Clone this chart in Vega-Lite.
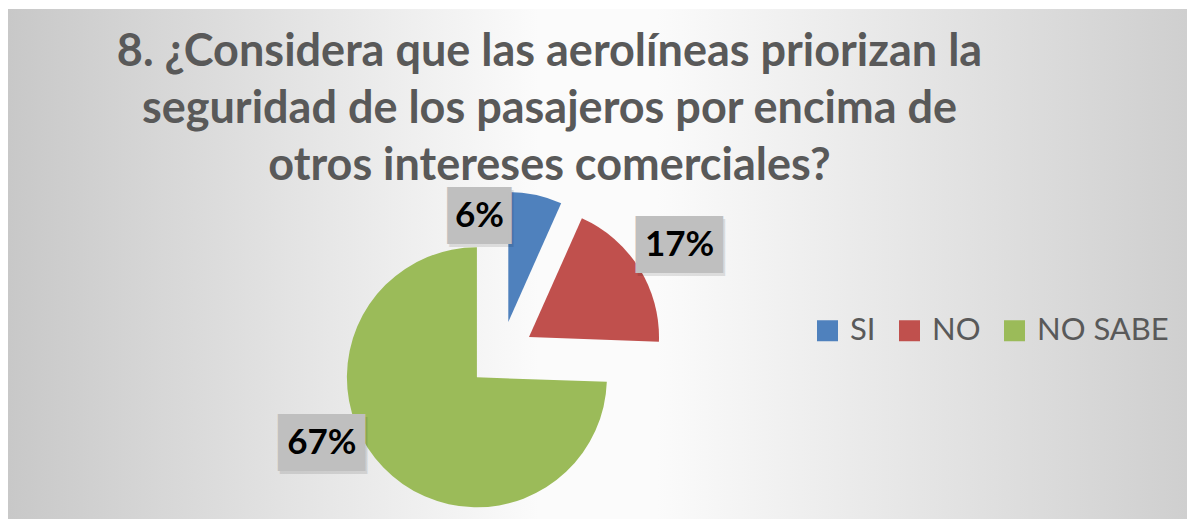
{
  "$schema": "https://vega.github.io/schema/vega-lite/v6.json",
  "width": 1179,
  "height": 510,
  "autosize": {"type": "none"},
  "padding": {"left": 8, "top": 9, "right": 0, "bottom": 2},
  "background": "white",
  "config": {"view": {"stroke": null}},
  "title": {
    "text": ["8. ¿Considera que las aerolíneas priorizan la", "seguridad de los pasajeros por encima de", "otros intereses comerciales?"],
    "font": "Lato",
    "fontSize": 45,
    "fontWeight": "bold",
    "color": "#595959",
    "anchor": "middle",
    "lineHeight": 57,
    "baseline": "top",
    "offset": -180,
    "dx": -48
  },
  "data": {
    "values": [
      {"cat": "SI", "value": 6, "label": "6%"},
      {"cat": "NO", "value": 17, "label": "17%"},
      {"cat": "NO SABE", "value": 67, "label": "67%"}
    ]
  },
  "transform": [
    {"stack": "value", "groupby": [], "sort": [{"field": "value", "order": "ascending"}], "as": ["t0", "t1"]}
  ],
  "layer": [
    {"mark": {"type": "rect", "fill": {"gradient": "linear", "x1": 0, "y1": 0, "x2": 1, "y2": 0, "stops": [{"offset": 0, "color": "#c8c8c8"}, {"offset": 0.45, "color": "#fbfbfb"}, {"offset": 0.55, "color": "#fbfbfb"}, {"offset": 1, "color": "#cfcfcf"}]}}, "encoding": {}},
    {
      "transform": [{"filter": "datum.cat === 'SI'"}],
      "mark": {"type": "arc", "outerRadius": 130, "x": 500.3, "y": 312.9},
      "encoding": {
        "theta": {"field": "t0", "type": "quantitative", "scale": {"domain": [0, 90]}},
        "theta2": {"field": "t1"},
        "color": {"field": "cat", "type": "nominal", "scale": {"domain": ["SI", "NO", "NO SABE"], "range": ["#4f81bd", "#c0504d", "#9bbb59"]},
          "legend": {"orient": "none", "legendX": 804, "legendY": 306, "direction": "horizontal", "title": null, "symbolType": "square", "symbolSize": 441, "symbolStrokeWidth": 0, "symbolOpacity": 1, "labelFont": "Lato", "labelFontSize": 31, "labelColor": "#595959", "labelOffset": 7, "columnPadding": 18, "labelLimit": 400}}
      }
    },
    {
      "transform": [{"filter": "datum.cat === 'NO'"}],
      "mark": {"type": "arc", "outerRadius": 130, "x": 521.0, "y": 328.1},
      "encoding": {
        "theta": {"field": "t0", "type": "quantitative"},
        "theta2": {"field": "t1"},
        "color": {"field": "cat", "type": "nominal"}
      }
    },
    {
      "transform": [{"filter": "datum.cat === 'NO SABE'"}],
      "mark": {"type": "arc", "outerRadius": 130, "x": 468.9, "y": 368.3},
      "encoding": {
        "theta": {"field": "t0", "type": "quantitative"},
        "theta2": {"field": "t1"},
        "color": {"field": "cat", "type": "nominal"}
      }
    },
    {
      "transform": [{"filter": "datum.cat === 'SI'"}],
      "layer": [
        {"mark": {"type": "text", "font": "DejaVu Sans Mono", "fontSize": 48, "color": "#000000", "opacity": 0.1, "align": "center", "baseline": "middle", "x": 500.3, "y": 312.9, "radius": 109.6, "thetaOffset": -0.266, "dx": 2, "dy": 5},
         "encoding": {"theta": {"field": "t0", "type": "quantitative"}, "text": {"value": "▕██▏"}}},
        {"mark": {"type": "text", "font": "DejaVu Sans Mono", "fontSize": 48, "color": "#bfbfbf", "align": "center", "baseline": "middle", "x": 500.3, "y": 312.9, "radius": 109.6, "thetaOffset": -0.266, "dy": 2},
         "encoding": {"theta": {"field": "t0", "type": "quantitative"}, "text": {"value": "▕██▏"}}},
        {"mark": {"type": "text", "font": "Lato", "fontSize": 35, "fontWeight": "bold", "color": "#000000", "align": "center", "baseline": "middle", "x": 500.3, "y": 312.9, "radius": 109.6, "thetaOffset": -0.266},
         "encoding": {"theta": {"field": "t0", "type": "quantitative"}, "text": {"field": "label"}}}
      ]
    },
    {
      "transform": [{"filter": "datum.cat === 'NO'"}],
      "layer": [
        {"mark": {"type": "text", "font": "DejaVu Sans Mono", "fontSize": 48, "color": "#000000", "opacity": 0.1, "align": "center", "baseline": "middle", "x": 521.0, "y": 328.1, "radius": 176.6, "thetaOffset": 0.603, "dx": 2, "dy": 5},
         "encoding": {"theta": {"field": "t0", "type": "quantitative"}, "text": {"value": "███"}}},
        {"mark": {"type": "text", "font": "DejaVu Sans Mono", "fontSize": 48, "color": "#bfbfbf", "align": "center", "baseline": "middle", "x": 521.0, "y": 328.1, "radius": 176.6, "thetaOffset": 0.603, "dy": 2},
         "encoding": {"theta": {"field": "t0", "type": "quantitative"}, "text": {"value": "███"}}},
        {"mark": {"type": "text", "font": "Lato", "fontSize": 35, "fontWeight": "bold", "color": "#000000", "align": "center", "baseline": "middle", "x": 521.0, "y": 328.1, "radius": 176.6, "thetaOffset": 0.603},
         "encoding": {"theta": {"field": "t0", "type": "quantitative"}, "text": {"field": "label"}}}
      ]
    },
    {
      "transform": [{"filter": "datum.cat === 'NO SABE'"}],
      "layer": [
        {"mark": {"type": "text", "font": "DejaVu Sans Mono", "fontSize": 48, "color": "#000000", "opacity": 0.1, "align": "center", "baseline": "middle", "x": 468.9, "y": 368.3, "radius": 168.4, "thetaOffset": 2.705, "dx": 2, "dy": 5},
         "encoding": {"theta": {"field": "t0", "type": "quantitative"}, "text": {"value": "███"}}},
        {"mark": {"type": "text", "font": "DejaVu Sans Mono", "fontSize": 48, "color": "#bfbfbf", "align": "center", "baseline": "middle", "x": 468.9, "y": 368.3, "radius": 168.4, "thetaOffset": 2.705, "dy": 2},
         "encoding": {"theta": {"field": "t0", "type": "quantitative"}, "text": {"value": "███"}}},
        {"mark": {"type": "text", "font": "Lato", "fontSize": 35, "fontWeight": "bold", "color": "#000000", "align": "center", "baseline": "middle", "x": 468.9, "y": 368.3, "radius": 168.4, "thetaOffset": 2.705},
         "encoding": {"theta": {"field": "t0", "type": "quantitative"}, "text": {"field": "label"}}}
      ]
    }
  ]
}
